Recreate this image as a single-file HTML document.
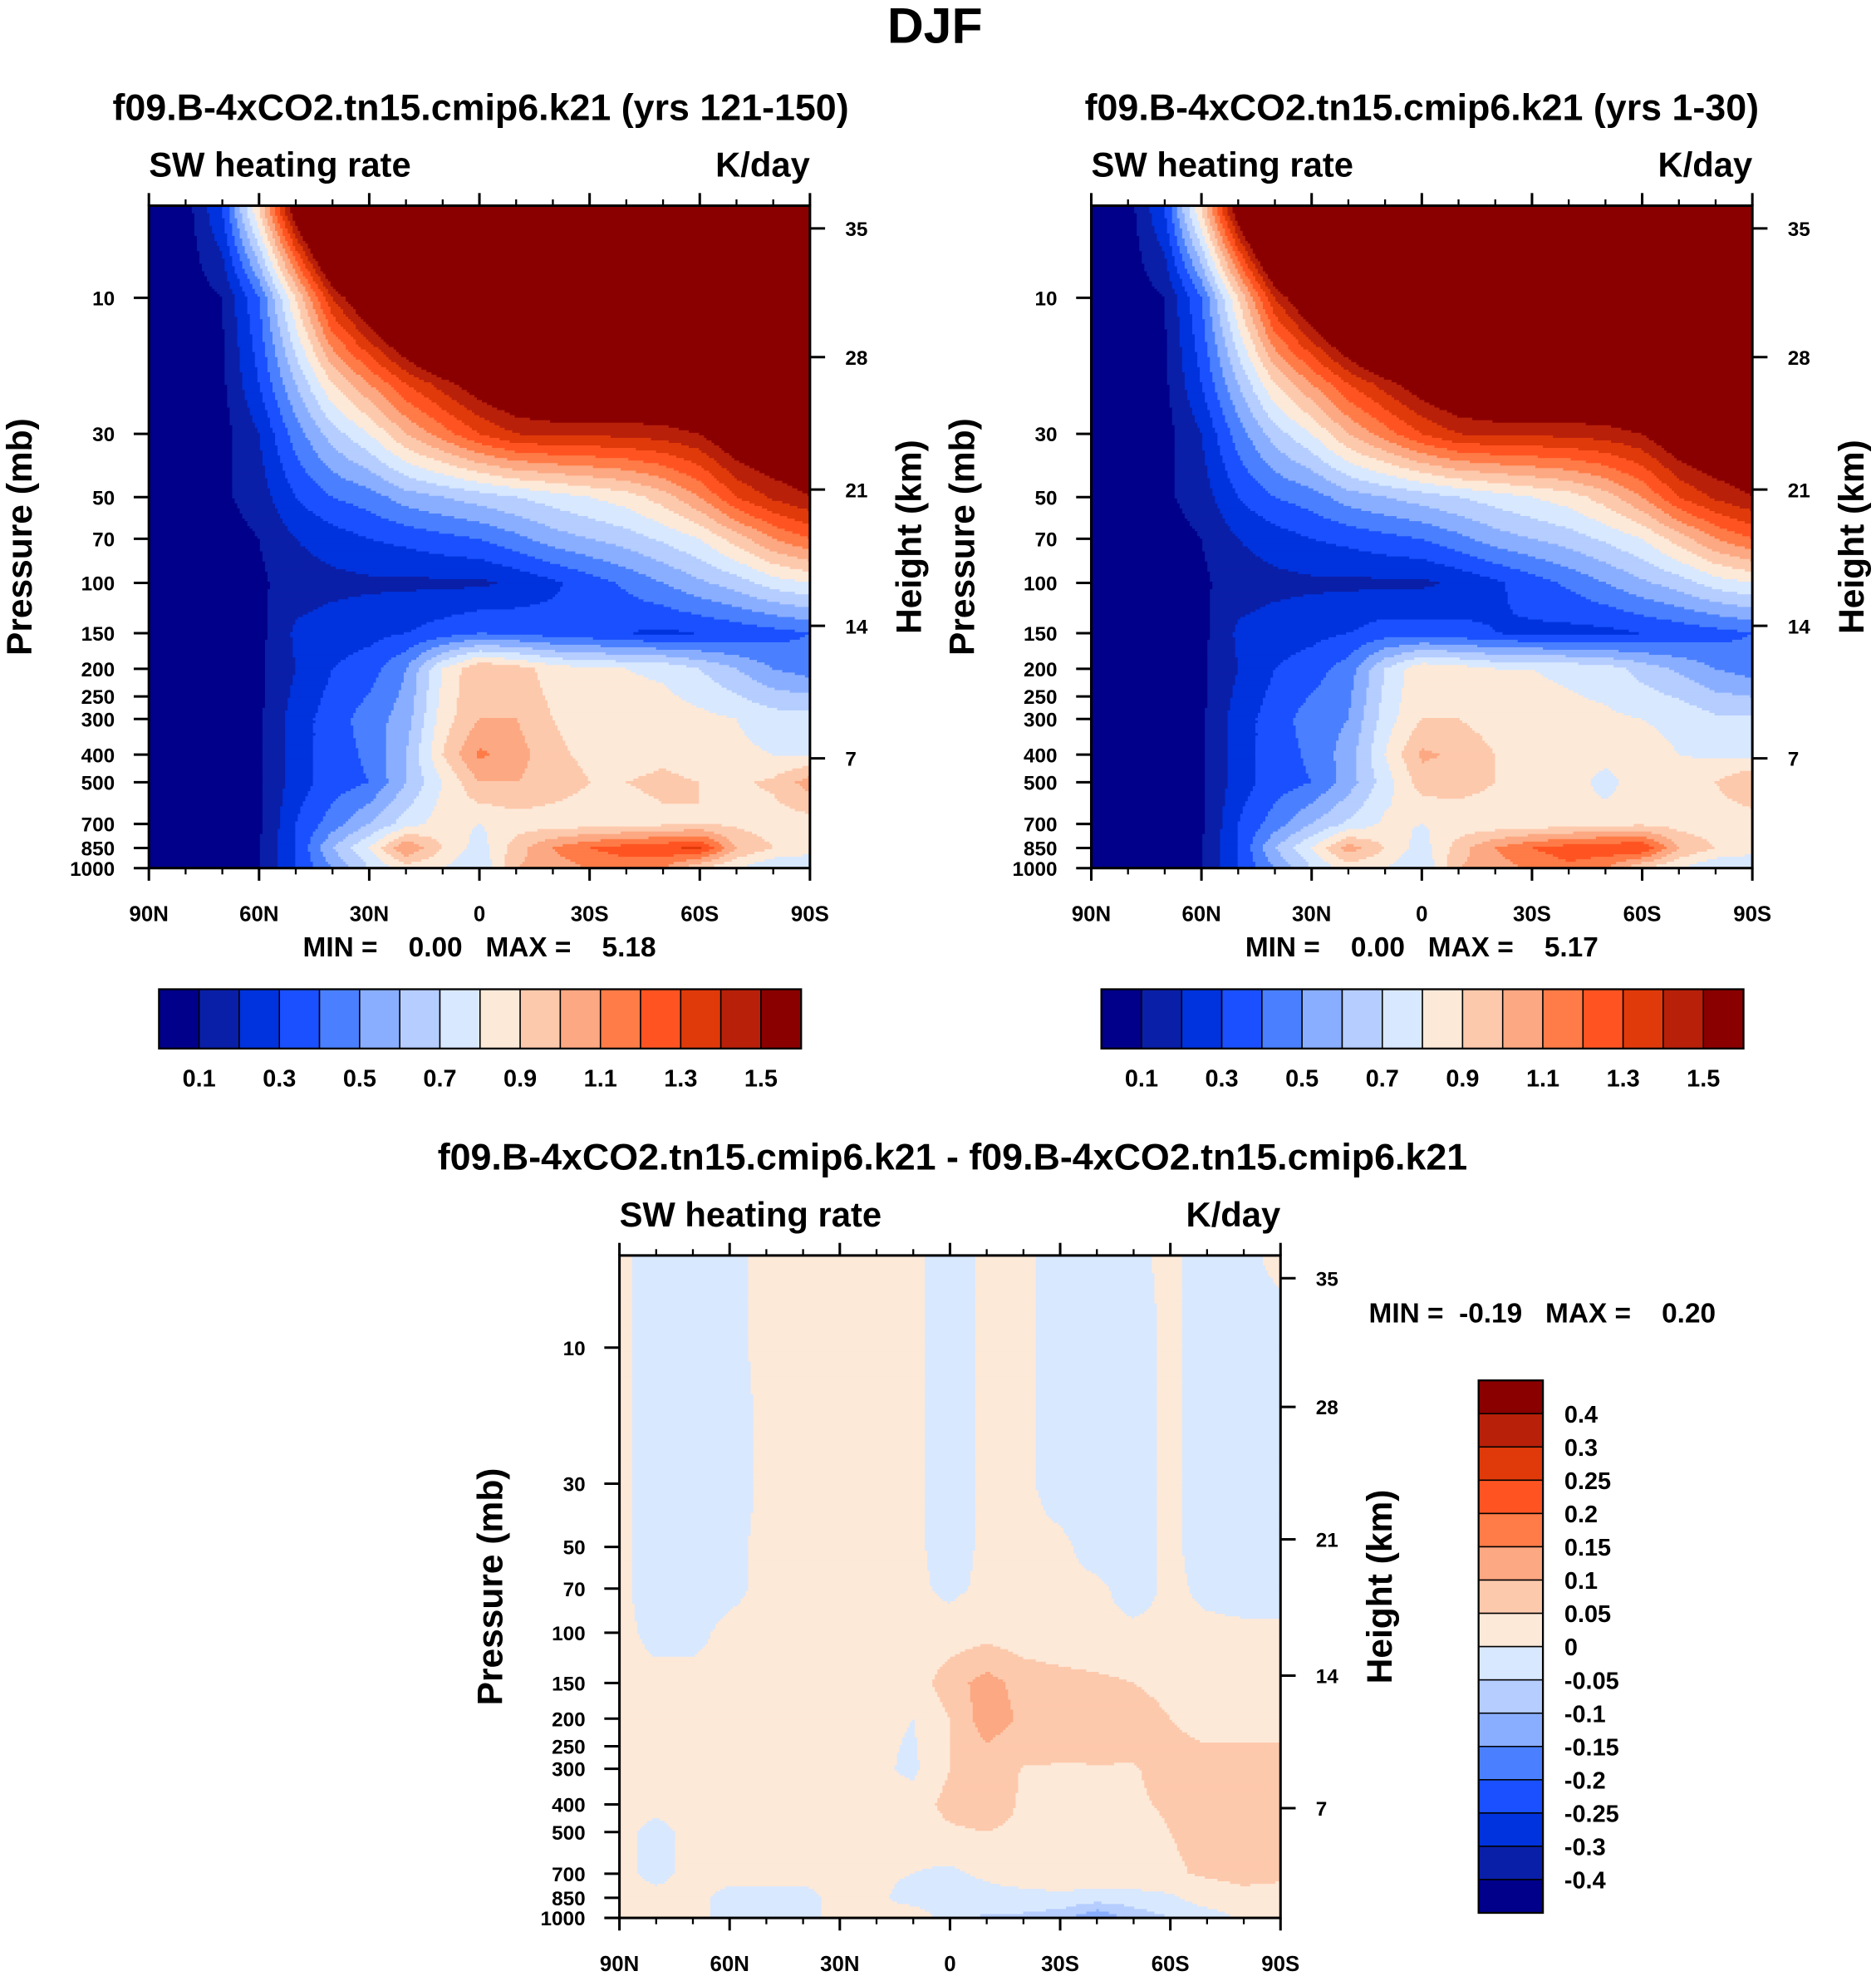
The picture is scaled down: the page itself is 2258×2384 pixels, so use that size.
<!DOCTYPE html>
<html><head><meta charset="utf-8">
<style>
html,body{margin:0;padding:0;background:#fff;}
svg{display:block;}
text{font-family:"Liberation Sans",Arial,sans-serif;font-weight:bold;fill:#000;}
</style></head>
<body>
<svg id="fig" xmlns="http://www.w3.org/2000/svg" width="2258" height="2384" viewBox="0 0 1487 1570">
<rect x="0" y="0" width="1487" height="1570" fill="#fff"/>
<text x="741" y="34" font-size="40" text-anchor="middle">DJF</text>
<g id="layer"></g>
</svg>
<script>
// ---- data ----
const lats = [90,80,70,60,50,40,30,20,10,0,-10,-20,-30,-40,-50,-60,-70,-80,-90];
const levels = [5,10,20,30,50,70,100,150,200,300,400,500,700,850,1000];
const shLevels = [0.1,0.2,0.3,0.4,0.5,0.6,0.7,0.8,0.9,1.0,1.1,1.2,1.3,1.4,1.5];
const shLabels = ["0.1","0.3","0.5","0.7","0.9","1.1","1.3","1.5"];
const diffLevels = [-0.4,-0.3,-0.25,-0.2,-0.15,-0.1,-0.05,0,0.05,0.1,0.15,0.2,0.25,0.3,0.4];
const diffLabels = ["0.4","0.3","0.25","0.2","0.15","0.1","0.05","0","-0.05","-0.1","-0.15","-0.2","-0.25","-0.3","-0.4"];
const colors16 = ["#00008a","#0a1fa8","#0033dd","#1a50ff","#4a80ff","#8aaeff","#b5cdff","#d8e8ff","#fde9d8","#fdc9ac","#fca882","#ff7b47","#ff5422","#e03a0a","#b8200a","#8a0000"];
const pressTicks = [10,30,50,70,100,150,200,250,300,400,500,700,850,1000];
const heightTicks = [35,28,21,14,7];
const latTicks = ["90N","60N","30N","0","30S","60S","90S"];

const field1 = [
 [0,0.05,0.3,0.9,1.6,2.2,2.6,3,3,3,3,3,3,3,3,3,3,3,3],
 [0,0.04,0.1,0.4,0.9,1.4,1.7,2,2.3,2.5,2.6,2.7,2.8,2.8,2.8,2.8,2.8,2.8,2.8],
 [0,0.03,0.08,0.3,0.6,0.9,1.1,1.3,1.45,1.6,1.7,1.75,1.75,1.75,1.75,1.8,1.9,2,2],
 [0,0.02,0.06,0.2,0.45,0.65,0.8,1.0,1.15,1.3,1.4,1.42,1.42,1.43,1.45,1.5,1.65,1.7,1.7],
 [0,0.02,0.08,0.15,0.3,0.4,0.45,0.55,0.6,0.65,0.7,0.75,0.8,0.85,0.95,1.1,1.3,1.42,1.5],
 [0,0.02,0.05,0.1,0.2,0.25,0.3,0.33,0.37,0.4,0.47,0.55,0.6,0.65,0.72,0.8,0.95,1.1,1.2],
 [0,0.02,0.05,0.08,0.15,0.17,0.18,0.18,0.18,0.18,0.22,0.28,0.35,0.42,0.5,0.58,0.65,0.75,0.8],
 [0,0.02,0.04,0.07,0.22,0.25,0.27,0.3,0.35,0.4,0.38,0.35,0.33,0.3,0.28,0.3,0.33,0.36,0.4],
 [0,0.02,0.04,0.08,0.2,0.3,0.35,0.5,0.8,1.0,0.95,0.85,0.82,0.8,0.78,0.7,0.6,0.5,0.45],
 [0,0.02,0.04,0.08,0.25,0.35,0.45,0.55,0.85,1.0,1.0,0.9,0.86,0.85,0.85,0.83,0.8,0.75,0.75],
 [0,0.02,0.04,0.08,0.25,0.35,0.42,0.6,0.9,1.12,1.05,0.92,0.88,0.86,0.88,0.85,0.82,0.8,0.8],
 [0,0.02,0.04,0.08,0.25,0.35,0.4,0.6,0.8,1.0,1.0,0.95,0.9,0.9,0.92,0.9,0.88,0.92,1.05],
 [0,0.02,0.04,0.08,0.3,0.45,0.6,0.75,0.85,0.8,0.85,0.85,0.85,0.86,0.88,0.9,0.88,0.85,0.85],
 [0,0.02,0.04,0.1,0.3,0.6,0.8,1.1,0.9,0.75,0.95,1.1,1.2,1.25,1.28,1.32,1.0,0.9,0.85],
 [0,0.02,0.04,0.1,0.3,0.5,0.7,0.85,0.8,0.7,1.0,1.05,1.1,1.15,1.1,0.9,0.8,0.7,0.7]
];
const field2 = [
 [0,0.05,0.3,0.9,1.6,2.2,2.6,3,3,3,3,3,3,3,3,3,3,3,3],
 [0,0.04,0.1,0.4,0.9,1.4,1.7,2,2.3,2.5,2.6,2.7,2.8,2.8,2.8,2.8,2.8,2.8,2.8],
 [0,0.03,0.08,0.3,0.6,0.9,1.1,1.3,1.45,1.6,1.7,1.75,1.75,1.75,1.75,1.8,1.9,2,2],
 [0,0.02,0.06,0.2,0.45,0.65,0.8,1.0,1.15,1.3,1.4,1.42,1.42,1.43,1.45,1.5,1.65,1.7,1.7],
 [0,0.02,0.08,0.15,0.3,0.4,0.45,0.55,0.6,0.65,0.7,0.75,0.8,0.85,0.95,1.1,1.3,1.42,1.5],
 [0,0.02,0.05,0.1,0.2,0.25,0.3,0.33,0.37,0.4,0.47,0.55,0.6,0.65,0.72,0.8,0.95,1.1,1.2],
 [0,0.02,0.05,0.08,0.15,0.17,0.18,0.18,0.18,0.18,0.22,0.28,0.35,0.42,0.5,0.58,0.65,0.75,0.8],
 [0,0.02,0.04,0.07,0.22,0.25,0.27,0.3,0.35,0.35,0.33,0.3,0.28,0.27,0.27,0.3,0.33,0.36,0.4],
 [0,0.02,0.04,0.08,0.2,0.3,0.35,0.45,0.7,0.88,0.85,0.8,0.8,0.78,0.75,0.66,0.58,0.5,0.45],
 [0,0.02,0.04,0.08,0.25,0.35,0.45,0.5,0.75,0.9,0.9,0.85,0.84,0.83,0.82,0.8,0.78,0.72,0.72],
 [0,0.02,0.04,0.08,0.25,0.35,0.42,0.55,0.8,1.02,0.98,0.9,0.86,0.85,0.85,0.83,0.8,0.78,0.78],
 [0,0.02,0.04,0.08,0.25,0.35,0.4,0.55,0.75,0.95,0.95,0.9,0.88,0.87,0.75,0.88,0.86,0.9,1.0],
 [0,0.02,0.04,0.08,0.3,0.45,0.6,0.72,0.82,0.8,0.83,0.83,0.83,0.85,0.87,0.88,0.86,0.84,0.84],
 [0,0.02,0.04,0.1,0.3,0.6,0.8,1.05,0.9,0.75,0.95,1.1,1.2,1.25,1.28,1.3,1.0,0.9,0.85],
 [0,0.02,0.04,0.1,0.3,0.5,0.7,0.85,0.8,0.7,1.0,1.05,1.12,1.18,1.1,0.9,0.8,0.7,0.7]
];
const fieldDiff = [
 [0.01,-0.02,-0.02,-0.01,0.01,0.01,0.01,0.01,0.01,-0.02,0.01,0.01,-0.02,-0.02,-0.01,0.01,-0.02,-0.01,0.01],
 [0.01,-0.02,-0.02,-0.01,0.01,0.01,0.01,0.01,0.01,-0.02,0.01,0.01,-0.02,-0.02,-0.02,0.01,-0.02,-0.02,-0.02],
 [0.01,-0.02,-0.02,-0.02,0.01,0.01,0.01,0.01,0.01,-0.02,0.01,0.01,-0.02,-0.02,-0.02,0.01,-0.02,-0.02,-0.02],
 [0.01,-0.02,-0.02,-0.02,0.01,0.01,0.01,0.01,0.01,-0.02,0.01,0.01,-0.02,-0.02,-0.02,0.01,-0.02,-0.02,-0.02],
 [0.01,-0.02,-0.02,-0.01,0.01,0.01,0.01,0.01,0.01,-0.02,0.01,0.01,0.01,-0.02,-0.02,0.01,-0.02,-0.02,-0.02],
 [0.01,-0.02,-0.02,-0.01,0.01,0.01,0.01,0.01,0.01,-0.01,0.01,0.01,0.01,0.01,-0.02,0.01,-0.01,-0.02,-0.02],
 [0.01,-0.01,-0.01,0.01,0.01,0.01,0.01,0.01,0.01,0.02,0.03,0.02,0.01,0.01,0.01,0.01,0.01,0.01,0.01],
 [0.01,0.01,0.01,0.01,0.01,0.01,0.01,0.01,0.02,0.08,0.12,0.08,0.07,0.06,0.05,0.04,0.03,0.02,0.02],
 [0.01,0.01,0.01,0.01,0.01,0.01,0.01,0.01,0.0,0.05,0.13,0.09,0.09,0.1,0.065,0.05,0.04,0.04,0.04],
 [0.01,0.01,0.01,0.01,0.01,0.01,0.01,0.01,-0.01,0.05,0.07,0.048,0.045,0.045,0.048,0.06,0.06,0.06,0.06],
 [0.01,0.01,0.01,0.01,0.01,0.01,0.01,0.01,0.02,0.07,0.09,0.04,0.04,0.04,0.045,0.055,0.06,0.06,0.06],
 [0.01,-0.01,0.01,0.01,0.01,0.01,0.01,0.01,0.02,0.04,0.05,0.035,0.035,0.035,0.035,0.05,0.06,0.06,0.06],
 [0.01,-0.01,0.01,0.01,0.01,0.01,0.01,0.01,0.0,-0.01,0.01,0.03,0.03,0.03,0.035,0.045,0.055,0.06,0.055],
 [0.01,0.01,0.01,-0.01,-0.01,-0.01,0.01,0.01,-0.02,-0.03,-0.02,-0.02,-0.01,-0.02,-0.02,-0.01,0.03,0.04,0.04],
 [0.01,0.01,0.01,-0.01,-0.01,-0.01,0.01,0.01,0.03,-0.02,-0.06,-0.06,-0.08,-0.15,-0.08,-0.05,-0.03,0.01,0.01]
];

// ---- drawing ----
const NS = "http://www.w3.org/2000/svg";
const layer = document.getElementById('layer');
function el(tag, attrs, parent){const e=document.createElementNS(NS,tag);for(const k in attrs)e.setAttribute(k,attrs[k]);(parent||layer).appendChild(e);return e;}
function txt(s,x,y,size,anchor,parent){const t=el('text',{x:x,y:y,'font-size':size,'text-anchor':anchor||'middle'},parent);t.textContent=s;return t;}

function interp(field, lat, p){
  let fi=(90-lat)/10; fi=Math.max(0,Math.min(18,fi));
  const i0=Math.min(17,Math.floor(fi)), tx=fi-i0;
  const lp=Math.log(Math.max(5,Math.min(1000,p)));
  let j0=0; while(j0<levels.length-2 && Math.log(levels[j0+1])<lp) j0++;
  const a=Math.log(levels[j0]), b=Math.log(levels[j0+1]);
  const ty=Math.max(0,Math.min(1,(lp-a)/(b-a)));
  const v00=field[j0][i0],v01=field[j0][i0+1],v10=field[j0+1][i0],v11=field[j0+1][i0+1];
  return (v00*(1-tx)+v01*tx)*(1-ty)+(v10*(1-tx)+v11*tx)*ty;
}
function colorFor(v, lv){let k=0;while(k<lv.length && v>=lv[k])k++;return colors16[k];}

function drawPanel(ox, oy, field, lv, name){
  const g=el('g',{});
  
  
  const W=524, H=525, x0=ox, y0=oy;
  const yOf=p=>y0+H-226*Math.log10(1000/p);
  const xOf=lat=>x0+(90-lat)/180*W;
  const step=2;
  const fill=el('g',{},g);
  
  
  for(let py=0;py<H;py+=step){
    const ymid=y0+py+step/2;
    const p=1000/Math.pow(10,(y0+H-ymid)/226);
    const hh=Math.min(step,H-py)+0.8;
    let runStart=0, runCol=null;
    for(let px=0;px<W;px+=step){
      const lat=90-(Math.min(px+step/2,W))/W*180;
      const c=colorFor(interp(field,lat,p),lv);
      if(c!==runCol){
        if(runCol!==null){el('rect',{x:x0+runStart,y:y0+py,width:px-runStart+0.8,height:hh,fill:runCol},fill);}
        runStart=px;runCol=c;
      }
    }
    el('rect',{x:x0+runStart,y:y0+py,width:W-runStart,height:hh,fill:runCol},fill);
  }
  el('rect',{x:x0,y:y0,width:W,height:H,fill:'none',stroke:'#000','stroke-width':2},g);
  const latVals=[90,60,30,0,-30,-60,-90];
  latVals.forEach((l,i)=>{
    const x=xOf(l);
    el('line',{x1:x,y1:y0+H,x2:x,y2:y0+H+10,stroke:'#000','stroke-width':2},g);
    el('line',{x1:x,y1:y0,x2:x,y2:y0-10,stroke:'#000','stroke-width':2},g);
    const t=txt(latTicks[i],x,y0+H+42,17,'middle',g);
    
    
  });
  for(let l=80;l>-90;l-=10){if(l%30===0)continue;const x=xOf(l);
    el('line',{x1:x,y1:y0+H,x2:x,y2:y0+H+5,stroke:'#000','stroke-width':1.5},g);
    el('line',{x1:x,y1:y0,x2:x,y2:y0-5,stroke:'#000','stroke-width':1.5},g);}
  pressTicks.forEach(p=>{const y=yOf(p);
    el('line',{x1:x0,y1:y,x2:x0-12,y2:y,stroke:'#000','stroke-width':2},g);
    const t=txt(String(p),x0-27,y+6,16,'end',g);
    
    });
  const hy={35:181,28:283,21:388,14:496,7:601};
  heightTicks.forEach(h=>{const y=y0+(hy[h]-163);
    el('line',{x1:x0+W,y1:y,x2:x0+W+12,y2:y,stroke:'#000','stroke-width':2},g);
    const t=txt(String(h),x0+W+28,y+6,16,'start',g);
    
    });
  const s1=txt('SW heating rate',x0,y0-23,27.5,'start',g);
  
  
  const s2=txt('K/day',x0+W,y0-23,27.5,'end',g);
  
  
  const ya=txt('Pressure (mb)',0,0,28,'middle',g);
  ya.setAttribute('transform','translate('+(x0-93)+','+(y0+H/2)+') rotate(-90)');
  
  
  const ha=txt('Height (km)',0,0,28,'middle',g);
  ha.setAttribute('transform','translate('+(x0+W+88)+','+(y0+H/2)+') rotate(-90)');
  
  
  return g;
}

drawPanel(118,163,field1,shLevels,'panel-yrs-121-150');
drawPanel(865,163,field2,shLevels,'panel-yrs-1-30');
drawPanel(491,995,fieldDiff,diffLevels,'panel-difference');

[[381,'f09.B-4xCO2.tn15.cmip6.k21 (yrs 121-150)','panel1-title'],[1127,'f09.B-4xCO2.tn15.cmip6.k21 (yrs 1-30)','panel2-title']].forEach(a=>{
  const t=txt(a[1],a[0],95,29.5,'middle');
  
  
});
const t3=txt('f09.B-4xCO2.tn15.cmip6.k21 - f09.B-4xCO2.tn15.cmip6.k21',755,927,29.5,'middle');



const m1=txt('MIN =    0.00   MAX =    5.18',380,758,22,'middle');


m1.style.whiteSpace='pre';
const m2=txt('MIN =    0.00   MAX =    5.17',1127,758,22,'middle');


m2.style.whiteSpace='pre';
const m3=txt('MIN =  -0.19   MAX =    0.20',1085,1048,22,'start');


m3.style.whiteSpace='pre';

function hbar(x0,name){
  const g=el('g',{});
  
  
  const w=509/16;
  colors16.forEach((c,i)=>{el('rect',{x:x0+i*w,y:784,width:w,height:47,fill:c,stroke:'#000','stroke-width':1},g);});
  el('rect',{x:x0,y:784,width:509,height:47,fill:'none',stroke:'#000','stroke-width':1.5},g);
  shLabels.forEach((s,i)=>{const t=txt(s,x0+(1+2*i)*w,861,19,'middle',g);
    
    });
}
hbar(126,'colorbar-panel1');
hbar(873,'colorbar-panel2');
(function(){
  const g=el('g',{});
  
  
  const h=422/16, x0=1172, y0=1094;
  colors16.slice().reverse().forEach((c,i)=>{el('rect',{x:x0,y:y0+i*h,width:51,height:h,fill:c,stroke:'#000','stroke-width':1},g);});
  el('rect',{x:x0,y:y0,width:51,height:422,fill:'none',stroke:'#000','stroke-width':1.5},g);
  diffLabels.forEach((s,i)=>{const t=txt(s,1240,y0+(i+1)*h+7,19,'start',g);
    
    });
})();
</script>
</body></html>
